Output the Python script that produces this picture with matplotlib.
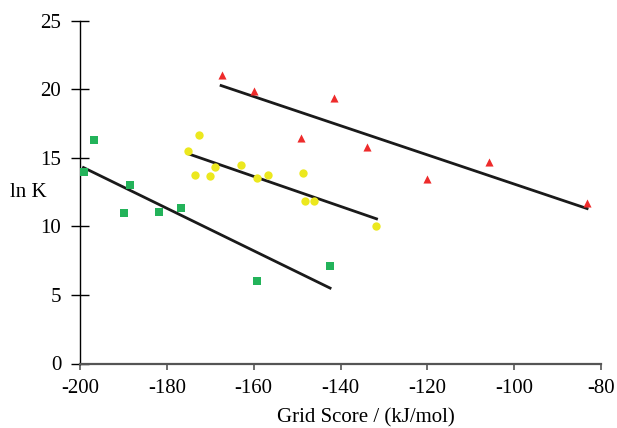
import matplotlib
matplotlib.use("Agg")
import matplotlib.pyplot as plt

plt.rcParams['font.family'] = ['Liberation Serif', 'DejaVu Serif']

# Data (Grid score, ln K)
green_x = [-196.7, -199.1, -188.4, -189.8, -181.7, -176.7, -159.2, -142.4]
green_y = [16.29, 14.0, 13.05, 10.98, 11.06, 11.37, 6.02, 7.1]

yellow_x = [-172.7, -175.1, -173.6, -170.0, -169.0, -162.9, -159.2, -156.7,
            -148.6, -148.1, -146.2, -131.8]
yellow_y = [16.7, 15.49, 13.74, 13.71, 14.36, 14.47, 13.54, 13.76,
            13.88, 11.84, 11.84, 10.01]

red_x = [-167.4, -159.9, -141.5, -149.2, -133.8, -120.0, -105.9, -83.2]
red_y = [21.06, 19.84, 19.38, 16.48, 15.78, 13.44, 14.66, 11.74]

# Trend line endpoints
green_line_x = [-199.2, -142.4]
green_line_y = [14.29, 5.5]
yellow_line_x = [-175.2, -131.7]
yellow_line_y = [15.31, 10.55]
red_line_x = [-167.5, -83.2]
red_line_y = [20.27, 11.30]

x_ticks = [-200, -180, -160, -140, -120, -100, -80]
y_ticks = [0, 5, 10, 15, 20, 25]

fig = plt.figure(figsize=(6.17, 4.28), dpi=100)
ax = fig.add_axes([80/617, 1 - 363.5/428, (601-80)/617, (363.5-20.7)/428])

ax.plot(red_line_x, red_line_y, color='#1a1a1a', lw=2.0, zorder=2)
ax.plot(yellow_line_x, yellow_line_y, color='#1a1a1a', lw=2.0, zorder=2)
ax.plot(green_line_x, green_line_y, color='#1a1a1a', lw=2.0, zorder=2)

ax.scatter(green_x, green_y, marker='s', s=32, color='#23b35a', zorder=3, linewidths=0)
ax.scatter(yellow_x, yellow_y, marker='o', s=36, color='#ece81e', zorder=3, linewidths=0)
ax.scatter(red_x, red_y, marker='^', s=34, color='#ee2b2b', zorder=3, linewidths=0)

ax.set_xlim(-200, -80)
ax.set_ylim(0, 25)
ax.set_xticks(x_ticks)
ax.set_yticks(y_ticks)
ax.set_xticklabels([str(t) for t in x_ticks])
ax.set_yticklabels([str(t) for t in y_ticks])

for s in ['top', 'right']:
    ax.spines[s].set_visible(False)
ax.spines['left'].set_color('black')
ax.spines['left'].set_linewidth(1.0)
ax.spines['bottom'].set_color('#555555')
ax.spines['bottom'].set_linewidth(1.6)

ax.tick_params(axis='y', direction='inout', length=13, width=1.0, color='black',
               labelsize=15, pad=7)
ax.tick_params(axis='x', direction='out', length=4, width=1.2, color='#555555',
               labelsize=15, pad=7)

fig.text(28.5/617, 1 - 192/428, 'ln K', fontsize=15, ha='center', va='center')
fig.text(366/617, 1 - 418/428, 'Grid Score / (kJ/mol)', fontsize=15,
         ha='center', va='center')

fig.savefig('out.png', dpi=100)
